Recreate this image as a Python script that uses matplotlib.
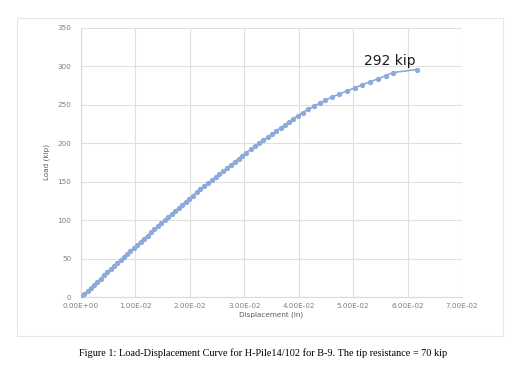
import matplotlib
matplotlib.use("Agg")
import matplotlib.pyplot as plt
from matplotlib.patches import Rectangle
from matplotlib.ticker import FuncFormatter

# Data
load_kip = [0, 4, 8, 12, 16, 20, 24, 28, 32, 36, 40, 44, 48, 52, 56, 60, 64,
            68, 72, 76, 80, 84, 88, 92, 96, 100, 104, 108, 112, 116, 120,
            124, 128, 132, 136, 140, 144, 148, 152, 156, 160, 164, 168, 172,
            176, 180, 184, 188, 192, 196, 200, 204, 208, 212, 216, 220, 224,
            228, 232, 236, 240, 244, 248, 252, 256, 260, 264, 268, 272, 276,
            280, 284, 288, 292, 296]
disp_in = [0.0, 0.00061, 0.00121, 0.00182, 0.00242, 0.00303, 0.00364, 0.00424,
           0.00485, 0.00545, 0.00606, 0.00667, 0.00727, 0.00788, 0.00848,
           0.00909, 0.00970, 0.01032, 0.01095, 0.01159, 0.01222, 0.01286,
           0.01349, 0.01413, 0.01476, 0.01540, 0.01603, 0.01667, 0.01730,
           0.01794, 0.01857, 0.01921, 0.01984, 0.02053, 0.02123, 0.02193,
           0.02263, 0.02333, 0.02403, 0.02474, 0.02544, 0.02614, 0.02684,
           0.02754, 0.02825, 0.02895, 0.02965, 0.03039, 0.03118, 0.03196,
           0.03275, 0.03353, 0.03431, 0.03510, 0.03589, 0.03667, 0.03746,
           0.03824, 0.03903, 0.03981, 0.04073, 0.04175, 0.04278, 0.04383,
           0.04492, 0.04605, 0.04740, 0.04883, 0.05025, 0.05165, 0.05310,
           0.05460, 0.05600, 0.05730, 0.06170]
x_ticks = [0, 0.01, 0.02, 0.03, 0.04, 0.05, 0.06, 0.07]
y_ticks = [0, 50, 100, 150, 200, 250, 300, 350]
peak_label = "292 kip"
peak_index = 73
caption = ("Figure 1: Load-Displacement Curve for H-Pile14/102 for B-9. "
           "The tip resistance = 70 kip")

BLUE = "#8eaadb"
GRID = "#e0e0e0"
TXT = "#7f7f7f"

fig = plt.figure(figsize=(5.17, 3.66), dpi=100)
fig.patch.set_facecolor("white")

# chart frame
fig.patches.append(Rectangle((17 / 517, 1 - 336 / 366), 486 / 517, 318 / 366,
                             transform=fig.transFigure, fill=False,
                             edgecolor="#e6e6e6", lw=0.8))

ax = fig.add_axes([81 / 517, 1 - 297 / 366, 381 / 517, 269 / 366])
ax.plot(disp_in, load_kip, color=BLUE, lw=1.2, marker="o", ms=2.8,
        mec=BLUE, mfc=BLUE, zorder=3)

ax.set_xlim(0, 0.07)
ax.set_ylim(0, 350)
ax.set_xticks(x_ticks)
ax.set_yticks(y_ticks)
ax.xaxis.set_major_formatter(FuncFormatter(lambda v, p: f"{v:.2E}"))
ax.grid(True, color=GRID, lw=0.8)
ax.set_axisbelow(True)
for s in ax.spines.values():
    s.set_visible(False)
ax.spines["left"].set_visible(True)
ax.spines["bottom"].set_visible(True)
ax.spines["left"].set_color("#d9d9d9")
ax.spines["bottom"].set_color("#d9d9d9")
ax.tick_params(length=0, labelsize=5.2, labelcolor=TXT)
ax.tick_params(axis="y", pad=7)
ax.tick_params(axis="x", pad=4)

ax.set_xlabel("Displacement (in)", fontsize=5.2, color="#595959", labelpad=2)
ax.set_ylabel("Load (kip)", fontsize=5.2, color="#595959", labelpad=5,
              family="Liberation Sans Narrow")

ax.annotate(peak_label, xy=(disp_in[peak_index], load_kip[peak_index]),
            xytext=(-2, 3.5), textcoords="offset points", ha="center",
            va="bottom", fontsize=10, color="#1a1a1a")

fig.text(263 / 517, 1 - 353 / 366, caption, ha="center", va="center",
         fontsize=7.4, family="Liberation Serif", color="black")

fig.savefig("out.png", dpi=100)
